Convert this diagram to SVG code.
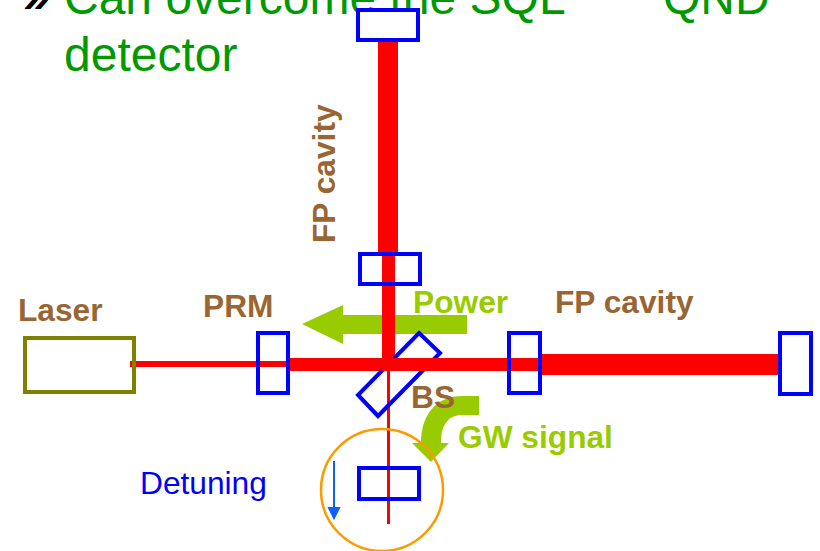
<svg xmlns="http://www.w3.org/2000/svg" width="820" height="551" viewBox="0 0 820 551">
<style>
text{font-family:"Liberation Sans",Arial,sans-serif}
.title{font-size:48px;fill:#009900}
.lab{font-size:31.7px;font-weight:bold;fill:#996633}
.sig{font-size:31.7px;font-weight:bold;fill:#99cc00}
.mirror{fill:none;stroke:#0000ff;stroke-width:4}
.red{fill:#ff0000}
.green{fill:#99cc00}
</style>
<rect width="820" height="551" fill="#ffffff"/>
<g id="heading">
<text x="24" y="12" style="font-size:46px;font-style:italic;font-weight:bold;fill:#000000">»</text>
<text x="64" y="14" class="title">Can overcome the SQL</text>
<text x="663" y="14" class="title">QND</text>
<text x="64" y="71" class="title">detector</text>
</g>
<g id="connectors">
<path id="power-arrow" class="green" d="M467 315H343V305L302 324L343 344V334H467Z"/>
<path id="gw-arrow" class="green" d="M479 396V415H462C449 415 441 424 441 443H449L431 462L412 443H421C421 414 437 396 462 396Z"/>
<rect class="red" x="378" y="41" width="20" height="212"/>
<rect class="red" x="382" y="253" width="13" height="107"/>
<rect class="red" x="130" y="361" width="128" height="6"/>
<rect class="red" x="257" y="361" width="32" height="6"/>
<rect class="red" x="289" y="358" width="252" height="13"/>
<rect class="red" x="541" y="354" width="238" height="21"/>
<rect class="red" x="387" y="371" width="3" height="153"/>
<path id="detuning-arrow" d="M334 461V509M329 508H339L334 518Z" fill="#1060ff" stroke="#1060ff" stroke-width="2"/>
</g>
<g id="laser"><rect x="25" y="338" width="109" height="54" fill="none" stroke="#808000" stroke-width="4"/><text x="18" y="321" class="lab">Laser</text></g>
<g id="prm"><rect class="mirror" x="258" y="333" width="30" height="60"/><text x="203" y="317" class="lab">PRM</text></g>
<g id="bs"><path class="mirror" d="M419 333L440 353L378 416L358 395Z"/><rect class="red" x="382" y="358" width="60" height="13"/><text x="411" y="408" class="lab">BS</text></g>
<g id="itm-north"><rect class="mirror" x="360" y="254" width="60" height="30"/></g>
<g id="etm-north"><rect class="mirror" x="358" y="10" width="60" height="30" style="fill:#ffffff"/></g>
<g id="itm-east"><rect class="mirror" x="509" y="333" width="31" height="60"/></g>
<g id="etm-east"><rect class="mirror" x="780" y="333" width="31" height="61"/></g>
<g id="srm"><rect class="mirror" x="359" y="468" width="60" height="31"/></g>
<g id="detuning-circle"><circle cx="382" cy="490" r="61" fill="none" stroke="#ff9900" stroke-width="2.5"/></g>
<g id="labels">
<text class="lab" transform="translate(335,243) rotate(-90)">FP cavity</text>
<text x="555" y="313" class="lab">FP cavity</text>
<text x="413" y="313" class="sig">Power</text>
<text x="458" y="448" class="sig">GW signal</text>
<text x="140" y="494" style="font-size:31.7px;fill:#0000ff">Detuning</text>
</g>
</svg>
